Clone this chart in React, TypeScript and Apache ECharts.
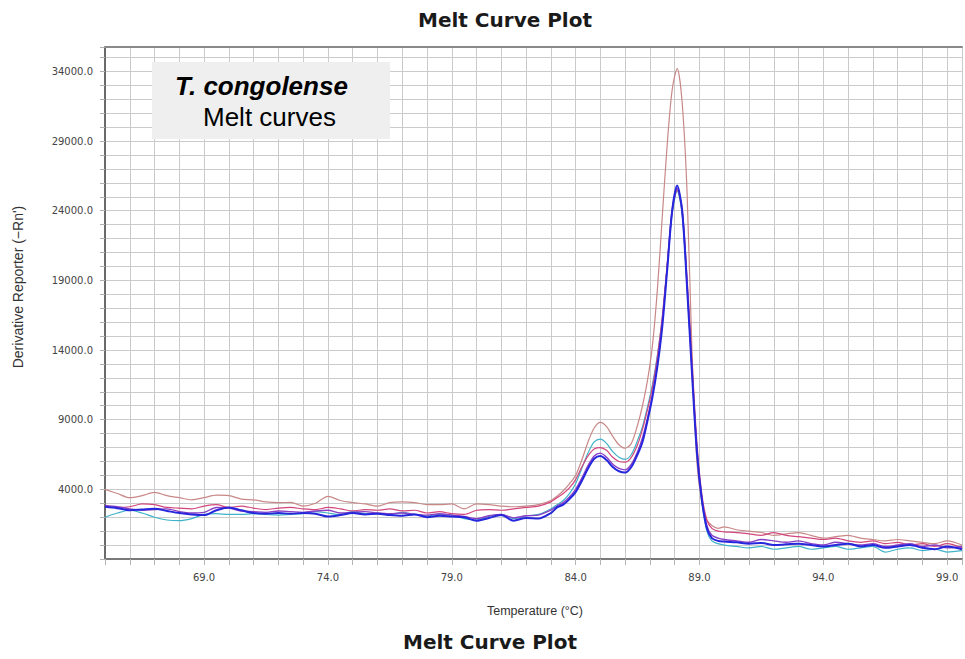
import React, { useEffect, useRef } from "react";
import * as echarts from "echarts";

// Temperatures (°C) shared by all melt curves
const temps = [
  65, 65.5, 66, 66.5, 67, 67.5, 68, 68.5, 69, 69.5, 70, 70.5, 71, 71.5, 72, 72.5, 73, 73.5, 74, 74.5,
  75, 75.5, 76, 76.5, 77, 77.5, 78, 78.5, 79, 79.5, 80, 80.5, 81, 81.5, 82, 82.5, 83,
  83.25, 83.5, 83.75, 84, 84.25, 84.5, 84.75, 85, 85.25, 85.5, 85.75, 86, 86.25, 86.5,
  86.7, 86.9, 87.1, 87.3, 87.5, 87.7, 87.9, 88.1, 88.3, 88.5, 88.7, 88.9, 89.1, 89.3, 89.5,
  89.75, 90, 90.5, 91, 91.5, 92, 92.5, 93, 93.5, 94, 94.5, 95, 95.5, 96, 96.5, 97, 97.5, 98, 98.5, 99, 99.6,
];

// Derivative reporter (-Rn') per curve
const roseCurve = [
  4000, 3700, 3400, 3550, 3780, 3550, 3400, 3250, 3400, 3580, 3550, 3300, 3250, 3100, 3050, 3060, 2800, 3000, 3500, 3200,
  3050, 2950, 2800, 3050, 3100, 3050, 2900, 2900, 2950, 2600, 2950, 2900, 2800, 2750, 2800, 2900, 3200,
  3500, 3900, 4400, 5000, 6100, 7400, 8400, 8800, 8500, 7800, 7200, 6950, 7300, 8600,
  10000, 11800, 14300, 18300, 23600, 28800, 32700, 34200, 31800, 25300, 13800, 5900, 3000, 1800, 1400,
  1200, 1300, 1100, 1000, 900, 700, 800, 900, 700, 500, 600, 700, 500, 400, 300, 400, 300, 200, 100, 300, 0,
];
const cyanCurve = [
  2000, 2300, 2500, 2300, 2000, 1800, 1750, 1900, 2200, 2250, 2200, 2200, 2250, 2200, 2150, 2200, 2250, 2400, 2300, 2200,
  2400, 2250, 2300, 2200, 2350, 2200, 2100, 2200, 2150, 1900, 1800, 2050, 2200, 1900, 2100, 2200, 2600,
  2900, 3200, 3700, 4400, 5500, 6600, 7400, 7600, 7300, 6700, 6300, 6150, 6500, 7500,
  8500, 9900, 11500, 13600, 16300, 20000, 23800, 25400, 23800, 18600, 12600, 6800, 3100, 1000, 300,
  100, 0, -100, -200, -100, -300, -200, -100, -300, -200, -100, -300, -200, -100, -500, -300, -200, -400, -300, -500, -400,
];
const pinkCurve = [
  2800, 2700, 2750, 2950, 2900, 2700, 2650, 2600, 2800, 2900, 2700, 2800, 2650, 2550, 2650, 2700, 2600, 2550, 2700, 2600,
  2450, 2550, 2500, 2600, 2450, 2500, 2300, 2400, 2250, 2200, 2500, 2550, 2500, 2600, 2700, 2800, 3100,
  3400, 3700, 4100, 4700, 5600, 6400, 6900, 7000, 6800, 6300, 6000, 5950, 6300, 7200,
  8300, 9700, 11300, 13500, 16400, 20200, 24000, 25500, 24200, 19200, 13200, 7300, 3600, 1800, 1200,
  1000, 950, 900, 800, 700, 900, 700, 600, 500, 400, 500, 300, 200, 300, 100, 200, 0, 100, -100, 100, -200,
];
const purpleCurve = [
  2850, 2750, 2600, 2500, 2550, 2600, 2400, 2300, 2350, 2700, 2650, 2450, 2400, 2350, 2450, 2400, 2350, 2450, 2500, 2300,
  2350, 2400, 2300, 2250, 2300, 2200, 2150, 2250, 2150, 2050, 1900, 2100, 2200, 1950, 2100, 2150, 2500,
  2800, 3050, 3450, 4000, 4800, 5700, 6400, 6600, 6300, 5800, 5500, 5400, 5800, 6700,
  7700, 9100, 10800, 13000, 16000, 20000, 24100, 25600, 24000, 18700, 12500, 6800, 3300, 1400, 700,
  500, 400, 300, 200, 400, 300, 200, 300, 100, 0, 200, 100, 0, 100, -100, 0, 100, -100, 0, -200, -100,
];
const blueCurve = [
  2750, 2650, 2500, 2550, 2600, 2450, 2300, 2200, 2150, 2500, 2700, 2500, 2300, 2250, 2300, 2250, 2300, 2250, 2050, 2150,
  2300, 2200, 2250, 2150, 2100, 2200, 2000, 2100, 2050, 2000, 1750, 1950, 2150, 1750, 1950, 1900, 2300,
  2700, 2900, 3300, 3800, 4600, 5500, 6200, 6400, 6100, 5600, 5300, 5200, 5600, 6500,
  7400, 8900, 10600, 12800, 15700, 19800, 24000, 25800, 24000, 18500, 12300, 6600, 3200, 1200, 500,
  300, 250, 200, 100, 150, 0, 50, 100, 0, -100, 0, 100, -100, 0, -200, -100, 0, -200, -300, -100, -300,
];

const curves = [
  { name: "rose", values: roseCurve, color: "#c98888", width: 1.2 },
  { name: "cyan", values: cyanCurve, color: "#3fb3c9", width: 1.2 },
  { name: "pink", values: pinkCurve, color: "#d2467c", width: 1.2 },
  { name: "purple", values: purpleCurve, color: "#8a3fc4", width: 1.4 },
  { name: "blue", values: blueCurve, color: "#2626dc", width: 2 },
];

const chartTitle = "Melt Curve Plot";
const xName = "Temperature (°C)";
const yName = "Derivative Reporter (\u2212Rn')";

export default function App() {
  const ref = useRef<HTMLDivElement>(null);
  useEffect(() => {
    if (!ref.current) return;
    const chart = echarts.init(ref.current, undefined, { renderer: "svg" });
    const gridColor = "#cbcbcb";
    chart.setOption({
      animation: false,
      backgroundColor: "#ffffff",
      grid: { left: 105, right: 0, top: 47, bottom: 100 },
      xAxis: [
        {
          type: "value",
          min: 65,
          max: 99.6,
          interval: 1,
          position: "bottom",
          axisLine: { show: true, onZero: false, lineStyle: { color: "#7a7a7a", width: 2 } },
          axisTick: { show: true, length: 6, lineStyle: { color: "#b5b5b5" } },
          axisLabel: {
            fontFamily: "DejaVu Sans",
            fontSize: 10,
            color: "#444",
            margin: 13,
            formatter: (v: number) => {
              const r = Math.round(v * 10) / 10;
              return Number.isInteger(r) && (r - 69) % 5 === 0 ? r.toFixed(1) : "";
            },
          },
          splitLine: { show: true, lineStyle: { color: gridColor, width: 1 } },
        },
        {
          type: "value",
          min: 65,
          max: 99.6,
          interval: 1,
          position: "top",
          axisLine: { show: true, onZero: false, lineStyle: { color: "#8a8a8a", width: 2 } },
          axisTick: { show: false },
          axisLabel: { show: false },
          splitLine: { show: false },
        },
      ],
      yAxis: {
        type: "value",
        min: -1000,
        max: 35750,
        interval: 1000,
        axisLine: { show: true, onZero: false, lineStyle: { color: "#6a6a6a", width: 2 } },
        axisTick: { show: true, length: 5, lineStyle: { color: "#b0b0b0" } },
        axisLabel: {
          fontFamily: "DejaVu Sans",
          fontSize: 10,
          color: "#444",
          margin: 12,
          formatter: (v: number) => {
            const r = Math.round(v);
            return r >= 4000 && (r - 4000) % 5000 === 0 ? r.toFixed(1) : "";
          },
        },
        splitLine: { show: true, lineStyle: { color: gridColor, width: 1 } },
      },
      series: curves.map((c) => ({
        type: "line",
        name: c.name,
        xAxisIndex: 0,
        showSymbol: false,
        smooth: 0.3,
        data: temps.map((t, i) => [t, c.values[i]]),
        lineStyle: { color: c.color, width: c.width },
        itemStyle: { color: c.color },
      })),
      graphic: [
        {
          type: "rect",
          shape: { x: 152, y: 62, width: 238, height: 77 },
          style: { fill: "#efefef" },
          z: 10,
        },
        {
          type: "text",
          x: 175,
          y: 86,
          z: 11,
          style: {
            text: "T. congolense",
            fontFamily: "Liberation Sans",
            fontSize: 26,
            fontWeight: "bold",
            fontStyle: "italic",
            fill: "#000",
            align: "left",
            verticalAlign: "middle",
          },
        },
        {
          type: "text",
          x: 203,
          y: 117,
          z: 11,
          style: {
            text: "Melt curves",
            fontFamily: "Liberation Sans",
            fontSize: 26,
            fill: "#000",
            align: "left",
            verticalAlign: "middle",
          },
        },
        {
          type: "text",
          x: 505,
          y: 20,
          style: {
            text: chartTitle,
            fontFamily: "DejaVu Sans",
            fontSize: 20,
            fontWeight: "bold",
            fill: "#1a1a1a",
            align: "center",
            verticalAlign: "middle",
          },
        },
        {
          type: "text",
          x: 490,
          y: 642,
          style: {
            text: chartTitle,
            fontFamily: "DejaVu Sans",
            fontSize: 20,
            fontWeight: "bold",
            fill: "#1a1a1a",
            align: "center",
            verticalAlign: "middle",
          },
        },
        {
          type: "text",
          x: 535,
          y: 611,
          style: {
            text: xName,
            fontFamily: "Liberation Sans",
            fontSize: 12.5,
            fill: "#333",
            align: "center",
            verticalAlign: "middle",
          },
        },
        {
          type: "text",
          x: 18,
          y: 287,
          rotation: Math.PI / 2,
          style: {
            text: yName,
            fontFamily: "Liberation Sans",
            fontSize: 14,
            fill: "#333",
            align: "center",
            verticalAlign: "middle",
          },
        },
      ],
    });
    return () => chart.dispose();
  }, []);
  return (
    <div
      ref={ref}
      style={{ position: "absolute", left: 0, top: 0, width: 965, height: 659 }}
    />
  );
}
